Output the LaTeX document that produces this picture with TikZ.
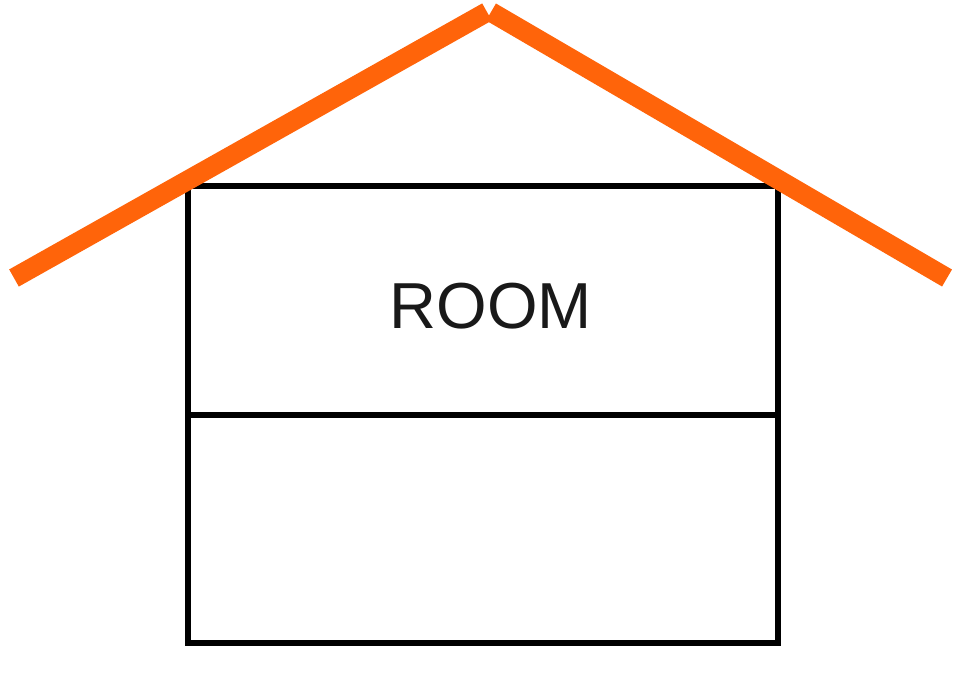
\documentclass[tikz,border=0pt]{standalone}
\usepackage{fontspec}
\setmainfont{Liberation Sans}
\definecolor{roof}{HTML}{FF640A}
\begin{document}
\begin{tikzpicture}
    \useasboundingbox (0,0) rectangle (9.65,6.81);
    \draw[line width=1.6pt] (1.88,0.38) rectangle (7.78,4.95);
    \draw[line width=1.6pt] (1.88,2.66) -- (7.78,2.66);
    \draw[roof, line width=5.6pt] (0.14,4.03) -- (4.87,6.69);
    \draw[roof, line width=5.6pt] (4.91,6.69) -- (9.47,4.03);
    \node[text=black!90, font=\fontsize{18.5}{22}\selectfont] (room) at (4.91,3.75) {ROOM};
  \end{tikzpicture}
\end{document}
